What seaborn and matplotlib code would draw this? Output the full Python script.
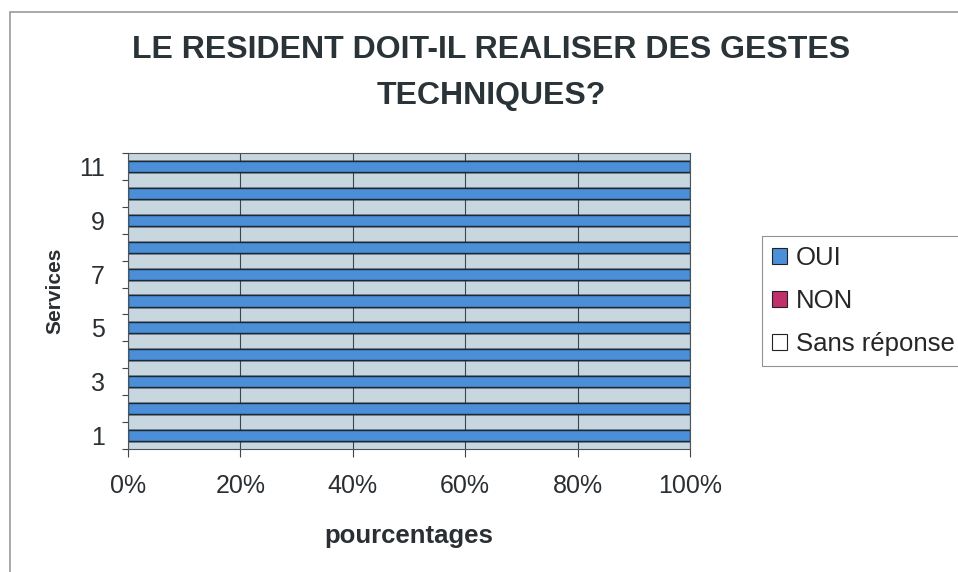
#Z0096 style - survey stacked bar chart


# import from python libraries and modules
import pandas as pd
import numpy as np

# import visual tools
import matplotlib
matplotlib.use('Agg')
import matplotlib.pyplot as plt
from matplotlib.patches import Patch, Rectangle
import seaborn as sns


#################### Data ####################


services = ['1', '2', '3', '4', '5', '6', '7', '8', '9', '10', '11']
oui = [100, 100, 100, 100, 100, 100, 100, 100, 100, 100, 100]
non = [0, 0, 0, 0, 0, 0, 0, 0, 0, 0, 0]
sans_reponse = [0, 0, 0, 0, 0, 0, 0, 0, 0, 0, 0]
x_ticks = [0, 20, 40, 60, 80, 100]
series_names = ['OUI', 'NON', 'Sans réponse']
series_colors = ['#4a8fd8', '#c0306a', '#ffffff']


#################### Plot ####################


df = pd.DataFrame({'service': services, 'OUI': oui, 'NON': non,
                   'Sans réponse': sans_reponse})
# cumulative sums so each series starts where the previous one ends
df['cum_oui'] = df['OUI']
df['cum_non'] = df['cum_oui'] + df['NON']
df['cum_sr'] = df['cum_non'] + df['Sans réponse']

sns.set_style('white')
plt.rcParams['font.family'] = ['Liberation Sans', 'DejaVu Sans']

fig = plt.figure(figsize=(9.58, 5.72), dpi=100)
# plot area spans x 128-690 px, y 153-449 px
ax = fig.add_axes([128 / 958, 1 - 449 / 572, 562 / 958, 296 / 572])
ax.set_facecolor('#c8d6e0')

# category 11 on top, 1 at the bottom
order = services[::-1]
for col, color in zip(['cum_sr', 'cum_non', 'cum_oui'], series_colors[::-1]):
    sns.barplot(data=df, x=col, y='service', order=order, orient='h',
                color=color, width=0.41, edgecolor='#1c2833', linewidth=1.0,
                saturation=1, ax=ax)

# axis ranges and grid
ax.set_xlim(0, 100)
ax.set_ylim(len(services) - 0.5, -0.5)
ax.set_xticks(x_ticks)
ax.set_xticklabels([f'{t}%' for t in x_ticks], fontsize=18, color='#2a2f33')
ax.xaxis.grid(True, color='#3a4650', linewidth=0.8)
ax.set_axisbelow(True)
ax.tick_params(axis='x', bottom=True, length=6, width=0.8,
               color='#3a4650', pad=12)

# labels on odd services, tick marks on category boundaries
label_pos = [i for i, s in enumerate(order) if int(s) % 2 == 1]
ax.set_yticks(label_pos)
ax.set_yticklabels([order[i] for i in label_pos], fontsize=18, color='#2a2f33')
ax.set_yticks(np.arange(-0.5, len(services)), minor=True)
ax.tick_params(axis='y', which='major', length=0, pad=16.5)
ax.tick_params(axis='y', which='minor', length=4.5, width=0.8,
               color='#3a4650', left=True)

for side in ['top', 'right', 'bottom', 'left']:
    ax.spines[side].set_color('#4a555e')
    ax.spines[side].set_linewidth(0.8)

ax.set_xlabel('pourcentages', fontsize=18.5, fontweight='bold',
              color='#2a2f33', labelpad=19)
ax.set_ylabel('Services', fontsize=15, fontweight='bold', color='#2a2f33')
ax.yaxis.set_label_coords(-0.114, 0.534)

# title
fig.text(491 / 958, 1 - 73 / 572,
         'LE RESIDENT DOIT-IL REALISER DES GESTES\nTECHNIQUES?',
         ha='center', va='center', fontsize=23, fontweight='bold',
         color='#2a3438', linespacing=1.68)

# legend
handles = [Patch(facecolor=c, edgecolor='#222222', linewidth=0.8, label=n)
           for n, c in zip(series_names, series_colors)]
leg = fig.legend(handles=handles, loc='upper left',
                 bbox_to_anchor=(762 / 958, 1 - 236 / 572), fontsize=18.5,
                 frameon=True, fancybox=False, edgecolor='#777777',
                 handlelength=0.58, handleheight=0.58, handletextpad=0.35,
                 labelspacing=0.73, borderpad=0.4, borderaxespad=0)
leg.get_frame().set_linewidth(0.8)

# outer chart border
fig.patches.append(Rectangle((10 / 958, -0.05), 1.0, 1 - 12 / 572 + 0.05,
                             transform=fig.transFigure, fill=False,
                             edgecolor='#999999', linewidth=1.2))

plt.savefig('out.png', dpi=100)
